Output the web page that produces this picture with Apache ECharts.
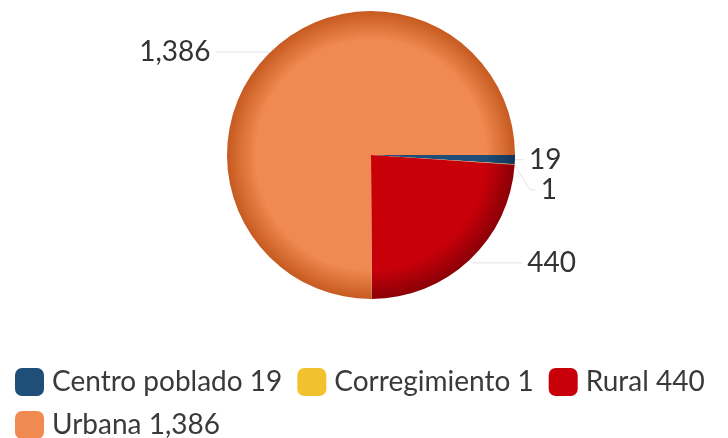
<!DOCTYPE html>
<html><head><meta charset="utf-8">
<script src="https://cdn.jsdelivr.net/npm/echarts@6/dist/echarts.min.js"></script>
<style>html,body{margin:0;padding:0;background:#fff}#c{width:728px;height:438px}</style>
</head><body><div id="c"></div>
<script>
const categories = ['Centro poblado', 'Corregimiento', 'Rural', 'Urbana'];
const values = [19, 1, 440, 1386];
const colors = ['#1f4e79', '#f2c12e', '#c8000a', '#f08a50'];
const edgeColors = ['#123456', '#c99a10', '#8a0006', '#c65a20'];
const lineLen = [[4, 10], [24, 6], [4, 50], [2, 52]];

const fmt = v => v.toLocaleString('en-US');
const cx = 371, cy = 155, R = 144;
function grad(i) {
  return {
    type: 'radial', x: cx, y: cy, r: R, global: true,
    colorStops: [
      { offset: 0, color: colors[i] },
      { offset: 0.8, color: colors[i] },
      { offset: 1, color: edgeColors[i] }
    ]
  };
}
const chart = echarts.init(document.getElementById('c'));
chart.setOption({
  animation: false,
  textStyle: { fontFamily: 'Lato' },
  legend: {
    left: 10, top: 363, width: 716,
    itemWidth: 29, itemHeight: 28, itemGap: 15,
    icon: 'roundRect',
    textStyle: { fontSize: 28, color: '#3a3a3a', fontFamily: 'Lato', padding: [0, 5, 0, 3] },
    formatter: name => name + ' ' + fmt(values[categories.indexOf(name)]),
    data: categories.map((c, i) => ({ name: c, itemStyle: { color: colors[i] } }))
  },
  series: [{
    type: 'pie',
    center: [cx, cy], radius: R,
    startAngle: 0, clockwise: true,
    avoidLabelOverlap: true,
    label: { fontSize: 28, color: '#333', fontFamily: 'Lato', formatter: p => fmt(p.value) },
    labelLine: { lineStyle: { color: '#e2e2e2', width: 1 } },
    itemStyle: { borderWidth: 0 },
    data: categories.map((c, i) => ({
      name: c, value: values[i],
      itemStyle: { color: grad(i) },
      labelLine: { length: lineLen[i][0], length2: lineLen[i][1] }
    }))
  }]
});
</script></body></html>
